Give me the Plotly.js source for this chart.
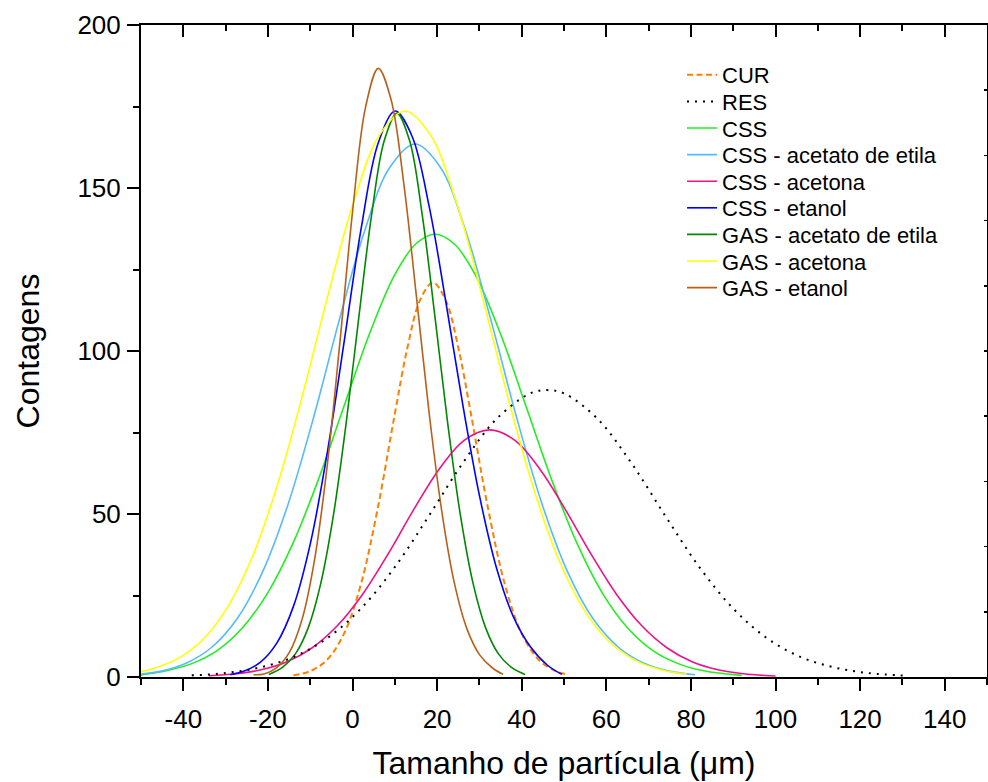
<!DOCTYPE html>
<html>
<head>
<meta charset="utf-8">
<script src="https://cdn.plot.ly/plotly-3.0.1.min.js"></script>
<style>html,body{margin:0;padding:0;background:#fff;}#chart{width:988px;height:782px;}</style>
</head>
<body>
<div id="chart"></div>
<script>
// Series (x in µm, y = counts)
const curX = [-14,-10,-6,-2,2,6,10,13,16,19,22,25,28,32,36,40,44,48,51];
const curY = [0.5,1.8,5.3,13.3,28.5,52.0,80.7,101.1,115.7,121,115.7,101.1,80.7,52.0,28.5,13.3,5.3,1.8,0.7];

const resX = [-38,-30,-22,-14,-6,2,10,18,26,34,42,46,50,58,66,74,82,90,98,106,114,122,131];
const resY = [0.5,1.2,2.9,6.1,11.9,21.0,33.7,49.3,65.5,79.1,87.0,88,87.0,79.1,65.5,49.3,33.7,21.0,11.9,6.1,2.9,1.2,0.4];

const cssX = [-50,-44,-38,-32,-26,-20,-14,-8,-2,4,10,15,19.5,24,29,35,41,47,53,59,65,71,77,83,92];
const cssY = [0.6,1.9,4.1,8.1,15.1,25.9,41.2,60.8,83.1,105.2,123.4,132.9,135.8,132.9,123.4,105.2,83.1,60.8,41.2,25.9,15.1,8.1,4.1,1.9,0.5];

const cssAcetatoX = [-50,-45.2,-39.2,-33.2,-27.2,-21.2,-15.2,-9.2,-3.2,2.8,8.8,14.8,20.8,26.8,32.8,38.8,44.8,50.8,56.8,62.8,68.8,74.8,81];
const cssAcetatoY = [0.9,1.8,4.3,9.2,18.0,32.4,53.1,79.6,109.1,136.6,156.3,163.5,156.3,136.6,109.1,79.6,53.1,32.4,18.0,9.2,4.3,1.8,0.7];

const cssAcetonaX = [-34,-27.6,-21.6,-15.6,-9.6,-3.6,2.4,8.4,14.4,20.4,26.4,32.4,38.4,44.4,50.4,56.4,62.4,68.4,74.4,80.4,86.4,92.4,100];
const cssAcetonaY = [0.4,1.0,2.2,4.6,8.9,15.7,25.4,37.7,51.2,63.6,72.6,75.8,72.6,63.6,51.2,37.7,25.4,15.7,8.9,4.6,2.2,1.0,0.3];

const cssEtanolX = [-28.9,-25.9,-21.9,-17.9,-13.9,-9.9,-5.9,-1.9,2.1,6.1,10.1,14.1,18.1,22.1,26.1,30.1,34.1,38.1,42.1,46.1,49.5];
const cssEtanolY = [0.7,1.65,4.4,10.4,21.9,41.3,69.3,103.5,138.0,163.9,173.6,165.8,144.5,114.8,83.3,55.1,33.2,18.3,9.2,3.6,0.8];

const gasAcetatoX = [-19.8,-16.5,-13.5,-10.5,-7.5,-4.5,-1.5,1.5,4.5,7.5,10.5,13.5,16.5,19.5,22.5,25.5,28.5,31.5,34.5,37.5,40.8];
const gasAcetatoY = [0.8,3.05,7.1,15.0,28.7,49.7,77.9,110.4,141.6,164.5,172.9,164.5,141.6,110.4,77.9,49.7,28.7,15.0,7.1,3.05,0.8];

const gasAcetonaX = [-50,-47.6,-41.6,-35.6,-29.6,-23.6,-17.6,-11.6,-5.6,0.4,6.4,12.4,18.4,24.4,30.4,36.4,42.4,48.4,54.4,60.4,66.4,72.4,79];
const gasAcetonaY = [1.7,2.4,5.4,11.2,21.3,37.1,59.5,87.5,118.1,146.3,166.3,173.6,166.3,146.3,118.1,87.5,59.5,37.1,21.3,11.2,5.4,2.4,0.9];

const gasEtanolX = [-23.4,-20.9,-17.9,-14.9,-11.9,-8.9,-5.9,-2.9,0.1,3.1,6.1,9.1,12.1,15.1,18.1,21.1,24.1,27.1,30.1,33.1,35.6];
const gasEtanolY = [0.7,0.94,2.86,7.6,17.8,36.5,65.7,103.7,143.8,174.9,186.7,177.2,151.6,116.9,81.2,50.9,28.7,14.6,6.7,2.76,0.8];

const seriesNames = ['CUR','RES','CSS','CSS - acetato de etila','CSS - acetona','CSS - etanol','GAS - acetato de etila','GAS - acetona','GAS - etanol'];

const xTickVals = [-40,-20,0,20,40,60,80,100,120,140];
const xTickText = ['-40','-20','0','20','40','60','80','100','120','140'];
const yTickVals = [0,50,100,150,200];
const yTickText = ['0','50','100','150','200'];

const FONT = 'Arial, "Liberation Sans", sans-serif';

// one legend box per entry so the row spacing matches the reference
const legendRowsY = [0.9233,0.8825,0.8417,0.8009,0.7601,0.7193,0.6785,0.6377,0.5969];
const legendIds = ['legend','legend2','legend3','legend4','legend5','legend6','legend7','legend8','legend9'];

function tr(i, x, y, color, dash, width, xa, ya) {
  return {
    type: 'scatter', mode: 'lines', name: seriesNames[i], x: x, y: y,
    legend: legendIds[i],
    xaxis: xa || 'x', yaxis: ya || 'y',
    line: {color: color, width: width || 1.6, dash: dash || 'solid', shape: 'spline', smoothing: 1},
    hoverinfo: 'skip'
  };
}

const data = [
  tr(0, curX, curY, '#FF8000', '6px,3.5px', 2),
  tr(1, resX, resY, '#000000', '2px,6px', 2, 'x2', 'y2'),
  tr(2, cssX, cssY, '#22EE22'),
  tr(3, cssAcetatoX, cssAcetatoY, '#55BBFF'),
  tr(4, cssAcetonaX, cssAcetonaY, '#EE1188'),
  tr(5, cssEtanolX, cssEtanolY, '#0000FF'),
  tr(6, gasAcetatoX, gasAcetatoY, '#008800'),
  tr(7, gasAcetonaX, gasAcetonaY, '#FFFF00'),
  tr(8, gasEtanolX, gasEtanolY, '#B8601A')
];

const layout = {
  width: 988, height: 782,
  margin: {l: 141, r: 1, t: 25, b: 105, pad: 0},
  paper_bgcolor: '#ffffff', plot_bgcolor: '#ffffff',
  font: {family: FONT, color: '#000000'},
  showlegend: true,
  xaxis: {
    range: [-50, 150], tickmode: 'array', tickvals: xTickVals, ticktext: xTickText,
    ticks: 'outside', ticklen: 12, tickwidth: 2, tickcolor: '#000',
    minor: {dtick: 10, tick0: 0, ticks: 'outside', ticklen: 6, tickwidth: 2, tickcolor: '#000'},
    showline: true, linewidth: 2, linecolor: '#000',
    showgrid: false, zeroline: false,
    tickfont: {family: FONT, size: 26, color: '#000'},
    ticklabelstandoff: 6,
    title: {text: 'Tamanho de partícula (μm)', font: {family: FONT, size: 32, color: '#000'}, standoff: 18},
    automargin: false
  },
  yaxis: {
    range: [0, 200], tickmode: 'array', tickvals: yTickVals, ticktext: yTickText,
    ticks: 'outside', ticklen: 12, tickwidth: 2, tickcolor: '#000',
    minor: {dtick: 25, tick0: 0, ticks: 'outside', ticklen: 6, tickwidth: 2, tickcolor: '#000'},
    showline: true, linewidth: 2, linecolor: '#000',
    showgrid: false, zeroline: false,
    tickfont: {family: FONT, size: 26, color: '#000'},
    ticklabelstandoff: 1,
    title: {text: 'Contagens', font: {family: FONT, size: 32, color: '#000'}, standoff: 28},
    automargin: false
  },
  xaxis2: {
    overlaying: 'x', anchor: 'y2', side: 'top', range: [-50, 150],
    tickmode: 'linear', tick0: 0, dtick: 20,
    ticks: 'inside', ticklen: 12, tickwidth: 2, tickcolor: '#000',
    minor: {dtick: 10, tick0: 0, ticks: 'inside', ticklen: 6, tickwidth: 2, tickcolor: '#000'},
    showticklabels: false, showline: true, linewidth: 2, linecolor: '#000',
    showgrid: false, zeroline: false
  },
  yaxis2: {
    overlaying: 'y', anchor: 'x2', side: 'right', range: [0, 200],
    tickmode: 'linear', tick0: 0, dtick: 20,
    ticks: 'inside', ticklen: 3, tickwidth: 1.5, tickcolor: '#000',
    showticklabels: false, showline: true, linewidth: 2, linecolor: '#000',
    showgrid: false, zeroline: false
  }
};

legendIds.forEach(function (id, i) {
  layout[id] = {
    x: 0.6395, y: legendRowsY[i], xanchor: 'left', yanchor: 'middle',
    font: {family: FONT, size: 22, color: '#000000'},
    bgcolor: 'rgba(0,0,0,0)', borderwidth: 0
  };
});

Plotly.newPlot('chart', data, layout, {staticPlot: true, displayModeBar: false});
</script>
</body>
</html>
